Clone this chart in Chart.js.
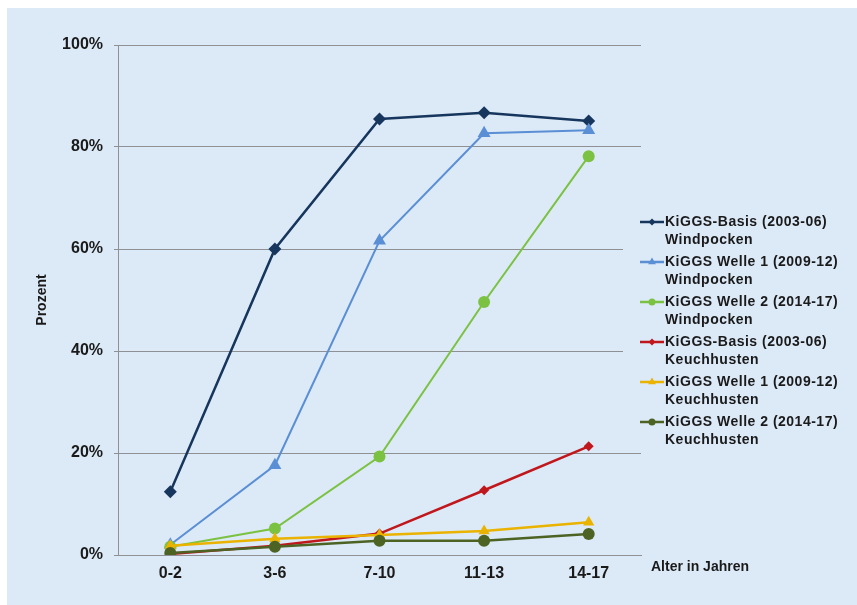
<!DOCTYPE html>
<html>
<head>
<meta charset="utf-8">
<script src="https://cdn.jsdelivr.net/npm/chart.js@4/dist/chart.umd.min.js"></script>
<style>
  html, body { margin: 0; padding: 0; background: #fff; }
  canvas { display: block; }
</style>
</head>
<body>
<canvas id="chart" width="857" height="605"></canvas>
<script>
// Altersgruppen (x-Achse)
const ageGroups = ['0-2', '3-6', '7-10', '11-13', '14-17'];

// Werte in Prozent
const basisWindpocken = [12.4, 60.0, 85.5, 86.7, 85.1];
const welle1Windpocken = [2.0, 17.6, 61.6, 82.7, 83.3];
const welle2Windpocken = [1.6, 5.2, 19.3, 49.6, 78.2];
const basisKeuchhusten = [0.2, 1.8, 4.2, 12.7, 21.3];
const welle1Keuchhusten = [1.8, 3.2, 3.9, 4.7, 6.4];
const welle2Keuchhusten = [0.4, 1.6, 2.8, 2.8, 4.1];

const seriesLabels = [
    ['KiGGS-Basis (2003-06)', 'Windpocken'],
    ['KiGGS Welle 1 (2009-12)', 'Windpocken'],
    ['KiGGS Welle 2 (2014-17)', 'Windpocken'],
    ['KiGGS-Basis (2003-06)', 'Keuchhusten'],
    ['KiGGS Welle 1 (2009-12)', 'Keuchhusten'],
    ['KiGGS Welle 2 (2014-17)', 'Keuchhusten']
];

const yTicks = [0, 20, 40, 60, 80, 100];

const FONT = '"Liberation Sans", Arial, sans-serif';
const TEXT = '#1a1a1a';
const GRID = '#8e9094';

const styles = [
    { color: '#17365d', point: 'rectRot', r: 6.5, w: 2.5 },
    { color: '#5b8fd5', point: 'triangle', r: 7.5, w: 2 },
    { color: '#7cc242', point: 'circle', r: 6, w: 2 },
    { color: '#c0171c', point: 'rectRot', r: 5, w: 2.5 },
    { color: '#e9b300', point: 'triangle', r: 6.5, w: 2.5 },
    { color: '#4c6324', point: 'circle', r: 6, w: 2.5 }
];

const values = [basisWindpocken, welle1Windpocken, welle2Windpocken,
                basisKeuchhusten, welle1Keuchhusten, welle2Keuchhusten];

const datasets = values.map((data, i) => ({
    label: seriesLabels[i].join(' '),
    data: data,
    borderColor: styles[i].color,
    backgroundColor: styles[i].color,
    pointBackgroundColor: styles[i].color,
    pointBorderColor: styles[i].color,
    pointBorderWidth: 0,
    pointStyle: styles[i].point,
    pointRadius: styles[i].r,
    borderWidth: styles[i].w,
    tension: 0,
    order: -i
}));

// Hintergrundfläche
const backgroundPlugin = {
    id: 'panelBackground',
    beforeDraw(chart) {
        const ctx = chart.ctx;
        ctx.save();
        ctx.fillStyle = '#dce9f7';
        ctx.fillRect(7, 8, chart.width - 7, chart.height - 8);
        ctx.restore();
    }
};

function drawMarker(ctx, style, x, y, r) {
    ctx.beginPath();
    if (style === 'circle') {
        ctx.arc(x, y, r, 0, Math.PI * 2);
    } else if (style === 'rectRot') {
        ctx.moveTo(x, y - r);
        ctx.lineTo(x + r, y);
        ctx.lineTo(x, y + r);
        ctx.lineTo(x - r, y);
    } else {
        ctx.moveTo(x, y - r);
        ctx.lineTo(x + r * 0.87, y + r * 0.5);
        ctx.lineTo(x - r * 0.87, y + r * 0.5);
    }
    ctx.closePath();
    ctx.fill();
}

// Legende mit zweizeiligen Einträgen und Achsenbeschriftung "Alter in Jahren"
const legendPlugin = {
    id: 'twoLineLegend',
    afterDraw(chart) {
        const ctx = chart.ctx;
        ctx.save();
        ctx.fillStyle = '#dce9f7';
        ctx.fillRect(623, 205, 225, 246);

        ctx.font = 'bold 14px ' + FONT;
        ctx.letterSpacing = '0.5px';
        ctx.textBaseline = 'middle';
        ctx.textAlign = 'left';
        seriesLabels.forEach((lines, i) => {
            const y = 222 + i * 40;
            const st = styles[i];
            ctx.strokeStyle = st.color;
            ctx.fillStyle = st.color;
            ctx.lineWidth = 2.5;
            ctx.beginPath();
            ctx.moveTo(640, y);
            ctx.lineTo(664, y);
            ctx.stroke();
            drawMarker(ctx, st.point, 652, y, st.point === 'triangle' ? 4.5 : 3.5);
            ctx.fillStyle = TEXT;
            ctx.fillText(lines[0], 665, y);
            ctx.fillText(lines[1], 665, y + 18);
        });

        ctx.letterSpacing = '0px';
        ctx.font = 'bold 14px ' + FONT;
        ctx.fillText('Alter in Jahren', 651, 567);
        ctx.restore();
    }
};

new Chart(document.getElementById('chart'), {
    type: 'line',
    data: { labels: ageGroups, datasets: datasets },
    options: {
        responsive: false,
        animation: false,
        layout: { padding: { left: 0, top: 45, right: 216, bottom: 0 } },
        plugins: {
            legend: { display: false },
            tooltip: { enabled: false }
        },
        scales: {
            x: {
                offset: true,
                grid: { display: false, drawTicks: false },
                border: { display: true, color: GRID, width: 1 },
                ticks: {
                    padding: 9,
                    color: TEXT,
                    font: { family: FONT, size: 16, weight: 'bold' }
                },
                afterFit(scale) { scale.height = 50; }
            },
            y: {
                min: 0,
                max: 100,
                afterBuildTicks(scale) {
                    scale.ticks = yTicks.map(v => ({ value: v }));
                },
                grid: { color: GRID, lineWidth: 1, tickLength: 4 },
                border: { display: true, color: GRID, width: 1 },
                ticks: {
                    padding: 11,
                    color: TEXT,
                    font: { family: FONT, size: 16, weight: 'bold' },
                    callback: v => v + '%'
                },
                title: {
                    display: true,
                    text: 'Prozent',
                    color: TEXT,
                    padding: { top: 34, bottom: 0 },
                    font: { family: FONT, size: 14, weight: 'bold' }
                },
                afterFit(scale) { scale.width = 118; }
            }
        }
    },
    plugins: [backgroundPlugin, legendPlugin]
});
</script>
</body>
</html>
